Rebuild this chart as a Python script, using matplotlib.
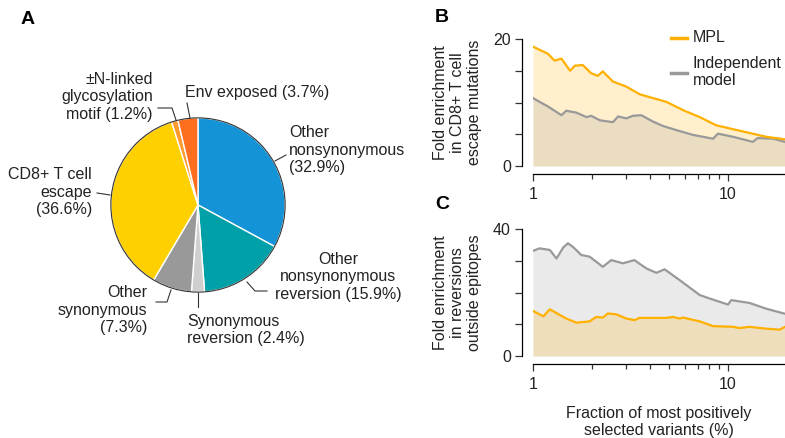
import matplotlib
matplotlib.use("Agg")
import matplotlib.pyplot as plt
from matplotlib.ticker import FixedLocator, NullFormatter

plt.rcParams['font.family'] = ['Liberation Sans', 'DejaVu Sans']
plt.rcParams['font.size'] = 11.5

# pie data (clockwise from 12 o'clock)
pie_labels = ['Other nonsynonymous', 'Other nonsynonymous reversion', 'Synonymous reversion',
              'Other synonymous', 'CD8+ T cell escape', '±N-linked glycosylation motif', 'Env exposed']
pie_values = [32.9, 15.9, 2.4, 7.3, 36.6, 1.2, 3.7]
pie_colors = ['#1493d6', '#00a0a8', '#cfcfcf', '#999999', '#ffd000', '#ff9a2e', '#ff6e1e']

# panel B: CD8+ T cell escape enrichment
b_mpl_x = [1.0, 1.08, 1.19, 1.29, 1.40, 1.55, 1.64, 1.80, 1.99, 2.15, 2.28, 2.57, 3.01, 3.52,
           4.12, 4.83, 5.88, 7.16, 8.72, 10.6, 12.9, 15.7, 19.6]
b_mpl_y = [18.8, 18.3, 17.7, 16.6, 16.9, 15.0, 15.8, 15.9, 14.6, 14.2, 14.9, 13.3, 12.5, 11.3,
           10.7, 10.1, 8.8, 7.7, 6.4, 5.8, 5.2, 4.6, 4.2]
b_ind_x = [1.0, 1.08, 1.19, 1.40, 1.48, 1.67, 1.88, 1.99, 2.20, 2.57, 2.73, 3.01, 3.25, 3.59,
           4.12, 4.64, 5.65, 6.61, 8.38, 8.88, 10.6, 13.4, 14.2, 17.0, 19.6]
b_ind_y = [10.7, 10.1, 9.4, 8.0, 8.7, 8.4, 7.7, 7.9, 7.2, 6.9, 7.8, 7.5, 7.9, 8.0,
           7.0, 6.3, 5.5, 4.9, 4.3, 5.1, 4.6, 3.8, 4.4, 4.3, 3.8]

# panel C: reversions outside epitopes
c_ind_x = [1.0, 1.08, 1.22, 1.32, 1.43, 1.51, 1.60, 1.77, 1.95, 2.28, 2.52, 2.89, 3.31, 3.81,
           4.29, 4.73, 5.65, 7.16, 8.06, 10.0, 10.4, 12.9, 15.7, 19.6]
c_ind_y = [33.1, 33.9, 33.4, 30.7, 34.2, 35.5, 34.4, 31.8, 31.3, 28.1, 30.2, 29.2, 30.2, 27.6,
           26.2, 27.3, 23.9, 19.2, 18.1, 16.2, 17.6, 16.7, 14.9, 13.3]
c_mpl_x = [1.0, 1.13, 1.22, 1.48, 1.67, 1.80, 1.95, 2.11, 2.28, 2.42, 2.68, 3.01, 3.31, 3.52,
           4.83, 5.22, 5.65, 5.88, 7.16, 8.38, 10.6, 11.5, 12.9, 15.7, 18.4, 19.6]
c_mpl_y = [14.2, 12.5, 14.7, 11.8, 10.5, 10.7, 10.9, 12.3, 12.1, 13.4, 13.1, 11.8, 11.3, 12.0,
           12.0, 12.3, 11.8, 12.1, 10.9, 9.4, 9.2, 8.8, 9.2, 8.6, 8.3, 9.2]

mpl_color = '#ffb000'
ind_color = '#999999'

W, H = 785, 438
fig = plt.figure(figsize=(W / 100, H / 100), dpi=100)


def px(x0, y0, w, h):
    return [x0 / W, 1 - (y0 + h) / H, w / W, h / H]


# pie
cx, cy, r = 198, 205, 88
ax_pie = fig.add_axes(px(cx - r, cy - r, 2 * r, 2 * r))
ax_pie.pie(pie_values, colors=pie_colors, startangle=90, counterclock=False,
           wedgeprops=dict(edgecolor='white', linewidth=1.0))
ax_pie.add_patch(plt.Circle((0, 0), 1, fill=False, edgecolor='#333333', linewidth=0.8))
ax_pie.set_xlim(-1.01, 1.01)
ax_pie.set_ylim(-1.01, 1.01)
ax_pie.set_aspect('equal')

# overlay in pixel coords for labels
ov = fig.add_axes([0, 0, 1, 1], zorder=10)
ov.set_xlim(0, W)
ov.set_ylim(H, 0)
ov.axis('off')
ov.patch.set_alpha(0)
lc = '#333333'
lw = 0.8
tc = '#222222'

ov.text(153, 97, '±N-linked\nglycosylation\nmotif (1.2%)', ha='right', va='center',
        multialignment='right', linespacing=1.2, color=tc)
ov.plot([158, 172, 176], [108, 108, 120], color=lc, lw=lw)
ov.text(185, 92, 'Env exposed (3.7%)', ha='left', va='center', color=tc)
ov.plot([187, 190], [103, 118], color=lc, lw=lw)
ov.text(289, 150, 'Other\nnonsynonymous\n(32.9%)', ha='left', va='center',
        multialignment='left', linespacing=1.2, color=tc)
ov.plot([286, 275], [155, 161], color=lc, lw=lw)
ov.text(92, 192, 'CD8+ T cell\nescape\n(36.6%)', ha='right', va='center',
        multialignment='right', linespacing=1.2, color=tc)
ov.plot([97, 110], [193, 195], color=lc, lw=lw)
ov.text(338, 277, 'Other\nnonsynonymous\nreversion (15.9%)', ha='center', va='center',
        multialignment='center', linespacing=1.2, color=tc)
ov.plot([247, 255, 267], [282, 291, 291], color=lc, lw=lw)
ov.text(187, 330, 'Synonymous\nreversion (2.4%)', ha='left', va='center',
        multialignment='left', linespacing=1.2, color=tc)
ov.plot([198, 198], [293, 307], color=lc, lw=lw)
ov.text(147, 310, 'Other\nsynonymous\n(7.3%)', ha='right', va='center',
        multialignment='right', linespacing=1.2, color=tc)
ov.plot([156, 167, 171], [302, 302, 290], color=lc, lw=lw)

# panel letters
fig.text(28 / W, 1 - 19 / H, 'A', fontsize=14, fontweight='bold', ha='center', va='center')
fig.text(442 / W, 1 - 17 / H, 'B', fontsize=14, fontweight='bold', ha='center', va='center')
fig.text(442 / W, 1 - 205 / H, 'C', fontsize=14, fontweight='bold', ha='center', va='center')


def style_axis(ax, ymax, ylabel):
    ax.set_xscale('log')
    ax.set_xlim(1, 19.6)
    ax.set_ylim(0, ymax)
    for s in ['top', 'right']:
        ax.spines[s].set_visible(False)
    ax.spines['left'].set_position(('outward', 8))
    ax.spines['bottom'].set_position(('outward', 6))
    ax.spines['left'].set_linewidth(0.9)
    ax.spines['bottom'].set_linewidth(0.9)
    ax.yaxis.set_major_locator(FixedLocator([0, ymax / 4, ymax / 2, 3 * ymax / 4, ymax]))
    ax.set_yticklabels(['0', '', '', '', str(ymax)])
    ax.xaxis.set_major_locator(FixedLocator([1, 10]))
    ax.set_xticklabels(['1', '10'])
    ax.xaxis.set_minor_locator(FixedLocator([2, 3, 4, 5, 6, 7, 8, 9]))
    ax.xaxis.set_minor_formatter(NullFormatter())
    ax.tick_params(axis='both', which='major', length=5, width=0.9, colors='#333333',
                   labelcolor='#222222', labelsize=11.5)
    ax.tick_params(axis='x', which='minor', length=3.5, width=0.9, colors='#333333')
    ax.tick_params(axis='y', pad=3)
    ax.tick_params(axis='x', pad=4)
    ax.text(-0.30, 0.5, ylabel, transform=ax.transAxes, rotation=90, ha='center',
            va='center', multialignment='center', linespacing=1.15, color='#222222')


# panel B
axb = fig.add_axes(px(533, 39, 252, 127))
axb.fill_between(b_mpl_x, b_mpl_y, color=mpl_color, alpha=0.2, lw=0)
axb.fill_between(b_ind_x, b_ind_y, color=ind_color, alpha=0.2, lw=0)
axb.plot(b_ind_x, b_ind_y, color=ind_color, lw=1.6)
axb.plot(b_mpl_x, b_mpl_y, color=mpl_color, lw=1.6)
style_axis(axb, 20, 'Fold enrichment\nin CD8+ T cell\nescape mutations')

# legend
ov.plot([671, 687], [38, 38], color=mpl_color, lw=2.5)
ov.text(693, 38, 'MPL', ha='left', va='center', color='#222222')
ov.plot([671, 687], [73, 73], color=ind_color, lw=2.5)
ov.text(693, 72, 'Independent\nmodel', ha='left', va='center', multialignment='left',
        linespacing=1.15, color='#222222')

# panel C
axc = fig.add_axes(px(533, 229, 252, 127))
axc.fill_between(c_ind_x, c_ind_y, color=ind_color, alpha=0.2, lw=0)
axc.fill_between(c_mpl_x, c_mpl_y, color=mpl_color, alpha=0.2, lw=0)
axc.plot(c_mpl_x, c_mpl_y, color=mpl_color, lw=1.6)
axc.plot(c_ind_x, c_ind_y, color=ind_color, lw=1.6)
style_axis(axc, 40, 'Fold enrichment\nin reversions\noutside epitopes')
axc.set_xlabel('Fraction of most positively\nselected variants (%)', labelpad=10,
               linespacing=1.15, color='#222222')

fig.savefig('out.png', dpi=100)
